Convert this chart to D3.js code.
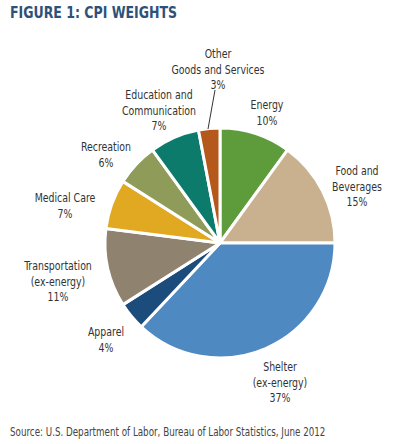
<!DOCTYPE html>
<html><head><meta charset="utf-8">
<script src="https://cdn.jsdelivr.net/npm/d3@7"></script>
<style>
html,body{margin:0;padding:0;background:#fff;}
text{font-family:"DejaVu Sans Condensed","DejaVu Sans",sans-serif;}
</style></head>
<body>
<svg id="c" width="394" height="444"></svg>
<script>
const categories = ["Energy","Food and Beverages","Shelter (ex-energy)","Apparel","Transportation (ex-energy)","Medical Care","Recreation","Education and Communication","Other Goods and Services"];
const values = [10,15,37,4,11,7,6,7,3];
const colors = ["#5d9b3b","#c9b18f","#4f89c2","#1c4c7c","#8f8370","#e1a922","#8f9b58","#0c7b6b","#b4581b"];
const labelLines = [["Energy","10%"],["Food and","Beverages","15%"],["Shelter","(ex-energy)","37%"],["Apparel","4%"],["Transportation","(ex-energy)","11%"],["Medical Care","7%"],["Recreation","6%"],["Education and","Communication","7%"],["Other","Goods and Services","3%"]];
const labelPos = [[267,105],[357,171],[280,367],[106,332],[58,266],[65,198],[106,147],[159,95],[218,54]];

const svg = d3.select("#c");
function squeeze(sel, f){
  sel.each(function(){
    const w = this.getComputedTextLength();
    d3.select(this).attr("textLength", w*f).attr("lengthAdjust","spacingAndGlyphs");
  });
}
const title = svg.append("text").attr("x",10).attr("y",18).text("FIGURE 1: CPI WEIGHTS")
  .attr("font-weight","bold").attr("font-size",16).attr("fill","#2e5179");
squeeze(title, 0.87);

const cx=220, cy=243, R=115;
const pie = d3.pie().sort(null).value(d=>d);
const arcs = pie(values);
const arc = d3.arc().innerRadius(0).outerRadius(R);
const g = svg.append("g").attr("transform",`translate(${cx},${cy})`);
g.selectAll("path").data(arcs).join("path")
  .attr("d",arc).attr("fill",(d,i)=>colors[i])
  .attr("stroke","#fff").attr("stroke-width",3).attr("stroke-linejoin","round");

// leader line for Other
svg.append("line").attr("x1",215).attr("y1",90).attr("x2",208).attr("y2",129)
  .attr("stroke","#333").attr("stroke-width",1);

const lh = 15.5;
labelLines.forEach((lines,i)=>{
  lines.forEach((s,j)=>{
    const t = svg.append("text").attr("text-anchor","middle").attr("font-size",12).attr("fill","#333")
      .attr("x",labelPos[i][0]).attr("y",labelPos[i][1]+4+j*lh).text(s);
    squeeze(t, 0.87);
  });
});

const src = svg.append("text").attr("x",10).attr("y",436).attr("font-size",11.5).attr("fill","#444")
  .text("Source: U.S. Department of Labor, Bureau of Labor Statistics, June 2012");
squeeze(src, 0.845);
</script>
</body></html>
